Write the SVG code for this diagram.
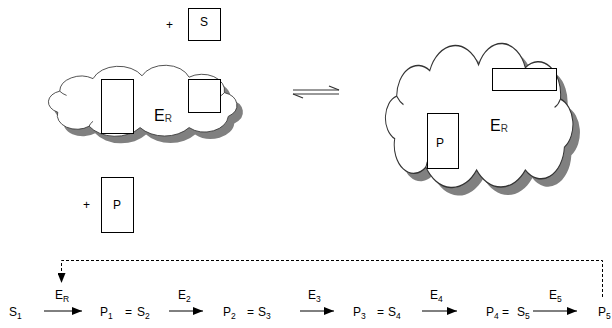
<svg xmlns="http://www.w3.org/2000/svg" width="612" height="328" viewBox="0 0 612 328">
  <style>
    text { font-family: "Liberation Sans", Arial, sans-serif; fill: #000; }
    .t { font-size: 12px; }
    .sub { font-size: 8.5px; }
    .big { font-size: 16px; }
    .bsub { font-size: 10px; fill: #333; }
    .box { fill: #fff; stroke: #000; stroke-width: 1; }
    .cloud { fill: #fff; stroke: #333; stroke-width: 1; vector-effect: non-scaling-stroke; }
    .shadow { fill: #808080; stroke: none; }
    .curl { fill: none; stroke: #333; stroke-width: 1; vector-effect: non-scaling-stroke; }
    .arrow { stroke: #000; stroke-width: 1; fill: none; }
    .dash { stroke: #000; stroke-width: 1; fill: none; stroke-dasharray: 3 2; }
  </style>
  <defs>
    <!-- generic cloud outline in a 200 x 100 box -->
    <path id="cloudShape" d="M 12 66 A 16 16 0 0 1 14 36 A 22 22 0 0 1 48 18 A 28 28 0 0 1 98 14 A 26 26 0 0 1 146 16 A 23 23 0 0 1 182 38 A 19 19 0 0 1 186 72 A 24 24 0 0 1 146 88 A 32 32 0 0 1 96 88 A 32 32 0 0 1 44 86 A 20 20 0 0 1 12 66 Z"/>
    <!-- short inner strokes where neighbouring puffs overlap -->
    <path id="cloudCurls" d="M 14 36 Q 17 40 21 42 M 182 38 Q 180 42 176 44 M 44 86 Q 45 82 48 79"/>
    <marker id="head" viewBox="0 0 10 8" refX="10" refY="4" markerWidth="10" markerHeight="8" markerUnits="userSpaceOnUse" orient="auto">
      <path d="M0 0 L10 4 L0 8 Z" fill="#000"/>
    </marker>
  </defs>

  <!-- enzyme without substrate -->
  <g id="enzyme-free">
    <use href="#cloudShape" class="shadow" transform="translate(52,73) scale(0.98,0.70)"/>
    <use href="#cloudShape" class="cloud" transform="translate(46,66) scale(0.98,0.70)"/>
    <use href="#cloudCurls" class="curl" transform="translate(46,66) scale(0.98,0.70)"/>
    <rect class="box" x="101.5" y="79.5" width="32" height="54"/>
    <rect class="box" x="188.5" y="79.5" width="32" height="33"/>
    <text class="big" x="154" y="121">E<tspan class="bsub" dy="1">R</tspan></text>
  </g>

  <!-- substrate S -->
  <g id="substrate">
    <text class="t" x="166" y="29">+</text>
    <rect class="box" x="188.5" y="8.5" width="32" height="32"/>
    <text class="t" x="200" y="26">S</text>
  </g>

  <!-- product P -->
  <g id="product">
    <text class="t" x="83" y="209">+</text>
    <rect class="box" x="101.5" y="177.5" width="32" height="55"/>
    <text class="t" x="113" y="209">P</text>
  </g>

  <!-- enzyme-product complex -->
  <g id="enzyme-complex">
    <use href="#cloudShape" class="shadow" transform="translate(390,53) scale(0.975,1.42)"/>
    <use href="#cloudShape" class="cloud" transform="translate(383,45) scale(0.975,1.42)"/>
    <use href="#cloudCurls" class="curl" transform="translate(383,45) scale(0.975,1.42)"/>
    <rect class="box" x="492.5" y="68.5" width="64" height="22"/>
    <rect class="box" x="427.5" y="113.5" width="31" height="55"/>
    <text class="t" x="436" y="147">P</text>
    <text class="big" x="490" y="131">E<tspan class="bsub" dy="1">R</tspan></text>
  </g>

  <!-- equilibrium half-arrows -->
  <g id="equilibrium">
    <line x1="293" y1="90" x2="339" y2="90" stroke="#777" stroke-width="1.5"/>
    <line x1="293" y1="94" x2="339" y2="94" stroke="#777" stroke-width="1.5"/>
    <line x1="339" y1="90" x2="329" y2="86" stroke="#333" stroke-width="1.2"/>
    <line x1="293" y1="94" x2="303" y2="98" stroke="#333" stroke-width="1.2"/>
  </g>

  <!-- reaction chain labels -->
  <g id="chain-labels">
    <text class="t" x="9" y="316">S<tspan class="sub" dy="3">1</tspan></text>
    <text class="t" x="100" y="316">P<tspan class="sub" dy="3">1</tspan><tspan x="125" y="316">=</tspan><tspan x="137" y="316">S</tspan><tspan class="sub" dy="3">2</tspan></text>
    <text class="t" x="223" y="316">P<tspan class="sub" dy="3">2</tspan><tspan x="247" y="316">=</tspan><tspan x="258" y="316">S</tspan><tspan class="sub" dy="3">3</tspan></text>
    <text class="t" x="353" y="316">P<tspan class="sub" dy="3">3</tspan><tspan x="377" y="316">=</tspan><tspan x="388" y="316">S</tspan><tspan class="sub" dy="3">4</tspan></text>
    <text class="t" x="486" y="316">P<tspan class="sub" dy="3">4</tspan><tspan x="502" y="316">=</tspan><tspan x="517" y="316">S</tspan><tspan class="sub" dy="3">5</tspan></text>
    <text class="t" x="598" y="316">P<tspan class="sub" dy="3">5</tspan></text>

    <text class="t" x="55" y="299">E<tspan class="sub" dy="3">R</tspan></text>
    <text class="t" x="178" y="299">E<tspan class="sub" dy="3">2</tspan></text>
    <text class="t" x="308" y="299">E<tspan class="sub" dy="3">3</tspan></text>
    <text class="t" x="430" y="299">E<tspan class="sub" dy="3">4</tspan></text>
    <text class="t" x="549" y="299">E<tspan class="sub" dy="3">5</tspan></text>
  </g>

  <!-- connectors -->
  <g id="connectors">
    <line class="arrow" x1="44" y1="311" x2="82" y2="311" marker-end="url(#head)"/>
    <line class="arrow" x1="169" y1="311" x2="203" y2="311" marker-end="url(#head)"/>
    <line class="arrow" x1="300" y1="311" x2="334" y2="311" marker-end="url(#head)"/>
    <line class="arrow" x1="422" y1="311" x2="457" y2="311" marker-end="url(#head)"/>
    <line class="arrow" x1="533" y1="311" x2="577" y2="311" marker-end="url(#head)"/>
    <path class="dash" d="M 602.5 297 V 260.5 H 61.5 V 283" marker-end="url(#head)"/>
  </g>
</svg>
